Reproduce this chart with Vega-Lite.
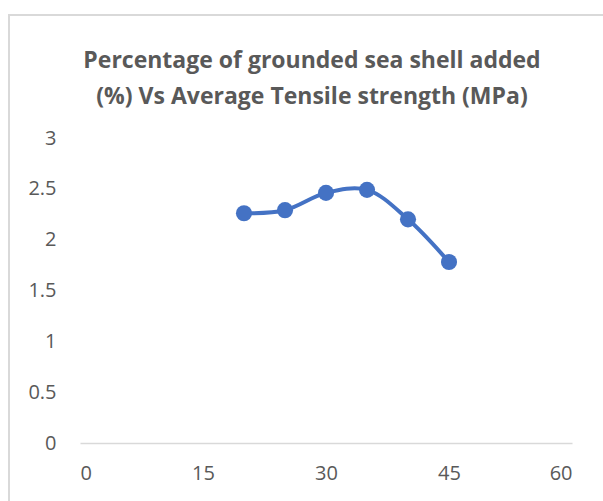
{
  "$schema": "https://vega.github.io/schema/vega-lite/v6.json",
  "autosize": "none",
  "width": 606,
  "height": 492,
  "padding": {"left": 9, "top": 15, "right": 0, "bottom": 0},
  "background": "white",
  "title": {
    "text": ["Percentage of grounded sea shell added", "(%)  Vs Average Tensile strength (MPa)"],
    "font": "Open Sans",
    "fontWeight": "bold",
    "fontSize": 23,
    "color": "#595959",
    "lineHeight": 36,
    "anchor": "middle",
    "dx": 0,
    "offset": -94
  },
  "data": {
    "values": [
      {"pct": 20, "strength": 2.26},
      {"pct": 25, "strength": 2.29},
      {"pct": 30, "strength": 2.46},
      {"pct": 35, "strength": 2.49},
      {"pct": 40, "strength": 2.2},
      {"pct": 45, "strength": 1.78}
    ]
  },
  "encoding": {
    "x": {
      "field": "pct",
      "type": "quantitative",
      "scale": {"domain": [0, 60], "nice": false, "zero": false, "range": [71, 563]},
      "axis": {
        "values": [0, 15, 30, 45, 60],
        "title": null,
        "grid": false,
        "ticks": false,
        "offset": -64,
        "domainColor": "#d9d9d9",
        "domainWidth": 1.5,
        "labelFont": "Open Sans",
        "labelFontSize": 20,
        "labelColor": "#595959",
        "labelPadding": 20
      }
    },
    "y": {
      "field": "strength",
      "type": "quantitative",
      "scale": {"domain": [0, 3], "nice": false, "range": [428, 123]},
      "axis": {
        "values": [0, 0.5, 1, 1.5, 2, 2.5, 3],
        "labelExpr": "'' + datum.value",
        "title": null,
        "grid": false,
        "ticks": false,
        "domain": false,
        "offset": -71,
        "labelFont": "Open Sans",
        "labelFontSize": 20,
        "labelColor": "#595959",
        "labelPadding": 24
      }
    }
  },
  "layer": [
    {
      "mark": {"type": "line", "interpolate": "catmull-rom", "color": "#4472C4", "strokeWidth": 4}
    },
    {
      "mark": {"type": "point", "filled": true, "shape": "circle", "size": 260, "color": "#4472C4", "opacity": 1}
    }
  ],
  "config": {"view": {"stroke": "#d9d9d9", "strokeWidth": 2}}
}
